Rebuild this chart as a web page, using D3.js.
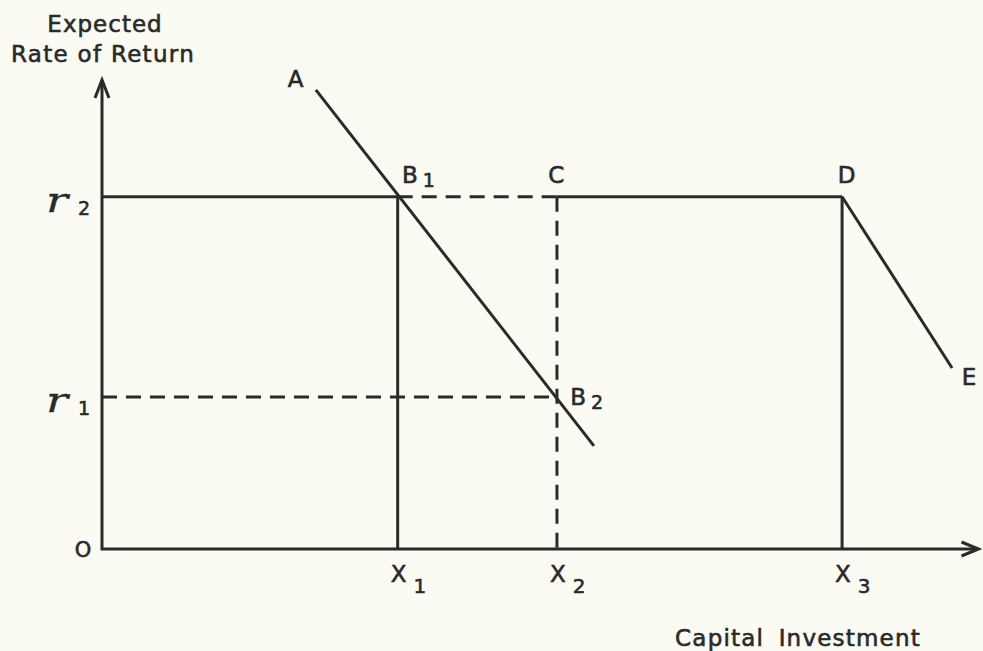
<!DOCTYPE html>
<html lang="en">
<head>
    <meta charset="UTF-8">
    <title>Expected Rate of Return vs Capital Investment</title>
    <script src="https://d3js.org/d3.v7.min.js"></script>
    <style>
        body { margin: 0; background: #fbfbf4; }
        .ink { fill: none; stroke: #2a2a2a; stroke-width: 3; stroke-linecap: butt; }
        .dash { stroke-dasharray: 15 9; }
        .lbl { font-family: "DejaVu Sans", sans-serif; fill: #2a2a2a; stroke: #2a2a2a; stroke-width: 0.6; }
        .rate { font-family: "DejaVu Serif", serif; font-style: italic; fill: #2a2a2a; stroke: #2a2a2a; stroke-width: 0.3; }
    </style>
</head>
<body>
    <svg width="983" height="651" id="chart"></svg>
    <script>
        // values in abstract units (0..100 on both axes)
        const rateLevels = [{ name: "r", sub: "2", value: 75.1 }, { name: "r", sub: "1", value: 32.4 }];
        const xTicks = [{ name: "X", sub: "1", value: 33.6 }, { name: "X", sub: "2", value: 51.7 }, { name: "X", sub: "3", value: 84.1 }];
        const lineAB = [[24.3, 97.9], [55.9, 22.0]];
        const lineDE = [[84.1, 75.1], [96.6, 38.6]];
        const solidRate = [[[0, 75.1], [33.6, 75.1]], [[51.7, 75.1], [84.1, 75.1]]];
        const dashedRate = [[[33.6, 75.1], [51.7, 75.1]], [[0, 32.4], [51.7, 32.4]]];
        const solidDrops = [[[33.6, 75.1], [33.6, 0]], [[84.1, 75.1], [84.1, 0]]];
        const dashedDrops = [[[51.7, 75.1], [51.7, 0]]];
        const pointLabels = [
            { name: "A", sub: "", x: 21.1, y: 98.5 },
            { name: "B", sub: "1", x: 34.1, y: 78.0 },
            { name: "C", sub: "", x: 50.7, y: 78.0 },
            { name: "B", sub: "2", x: 53.2, y: 30.7 },
            { name: "D", sub: "", x: 83.6, y: 78.0 },
            { name: "E", sub: "", x: 97.7, y: 35.0 }
        ];

        const svg = d3.select("#chart");
        const x = d3.scaleLinear().domain([0, 100]).range([102, 982]);
        const y = d3.scaleLinear().domain([0, 100]).range([549, 80]);
        const line = d3.line().x(d => x(d[0])).y(d => y(d[1]));

        svg.append("rect").attr("width", 983).attr("height", 651).attr("fill", "#fbfbf4");

        // axes
        svg.append("path").attr("class", "ink").attr("d", line([[0, 100], [0, 0], [99.6, 0]]));
        svg.append("path").attr("class", "ink")
            .attr("d", `M${x(0) - 7},${y(100) + 18}L${x(0)},${y(100)}L${x(0) + 7},${y(100) + 18}`);
        svg.append("path").attr("class", "ink")
            .attr("d", `M${x(99.6) - 17},${y(0) - 7}L${x(99.6)},${y(0)}L${x(99.6) - 17},${y(0) + 7}`);

        solidRate.concat(solidDrops).forEach(seg =>
            svg.append("path").attr("class", "ink").attr("d", line(seg)));
        dashedRate.concat(dashedDrops).forEach(seg =>
            svg.append("path").attr("class", "ink dash").attr("d", line(seg)));
        svg.append("path").attr("class", "ink").attr("d", line(lineAB));
        svg.append("path").attr("class", "ink").attr("d", line(lineDE));

        // axis titles
        svg.append("text").attr("class", "lbl").attr("x", 105).attr("y", 32)
            .attr("text-anchor", "middle").attr("font-size", 23).attr("letter-spacing", 1).text("Expected");
        svg.append("text").attr("class", "lbl").attr("x", 103).attr("y", 62)
            .attr("text-anchor", "middle").attr("font-size", 23).attr("letter-spacing", 1.3).text("Rate of Return");
        svg.append("text").attr("class", "lbl").attr("x", 798).attr("y", 646)
            .attr("text-anchor", "middle").attr("font-size", 23).attr("letter-spacing", 1.2).attr("word-spacing", 6)
            .text("Capital Investment");

        svg.append("text").attr("class", "lbl").attr("x", 83).attr("y", 557)
            .attr("text-anchor", "middle").attr("font-size", 21).text("O");

        // rate labels on y axis
        rateLevels.forEach(r => {
            svg.append("text").attr("class", "rate")
                .attr("transform", `translate(46,${y(r.value) + 15}) scale(1.35,1)`)
                .attr("font-size", 34).text(r.name);
            svg.append("text").attr("class", "lbl").attr("x", 78).attr("y", y(r.value) + 18)
                .attr("font-size", 19).text(r.sub);
        });

        // x tick labels
        xTicks.forEach(tk => {
            const t = svg.append("text").attr("class", "lbl").attr("x", x(tk.value) - 7).attr("y", y(0) + 33)
                .attr("font-size", 23);
            t.append("tspan").text(tk.name);
            t.append("tspan").attr("font-size", 20).attr("dx", 7).attr("dy", 11).text(tk.sub);
        });

        // point labels
        pointLabels.forEach(p => {
            const t = svg.append("text").attr("class", "lbl").attr("x", x(p.x)).attr("y", y(p.y))
                .attr("font-size", 23);
            t.append("tspan").text(p.name);
            if (p.sub) t.append("tspan").attr("font-size", 19).attr("dx", 5).attr("dy", 4).text(p.sub);
        });
    </script>
</body>
</html>
